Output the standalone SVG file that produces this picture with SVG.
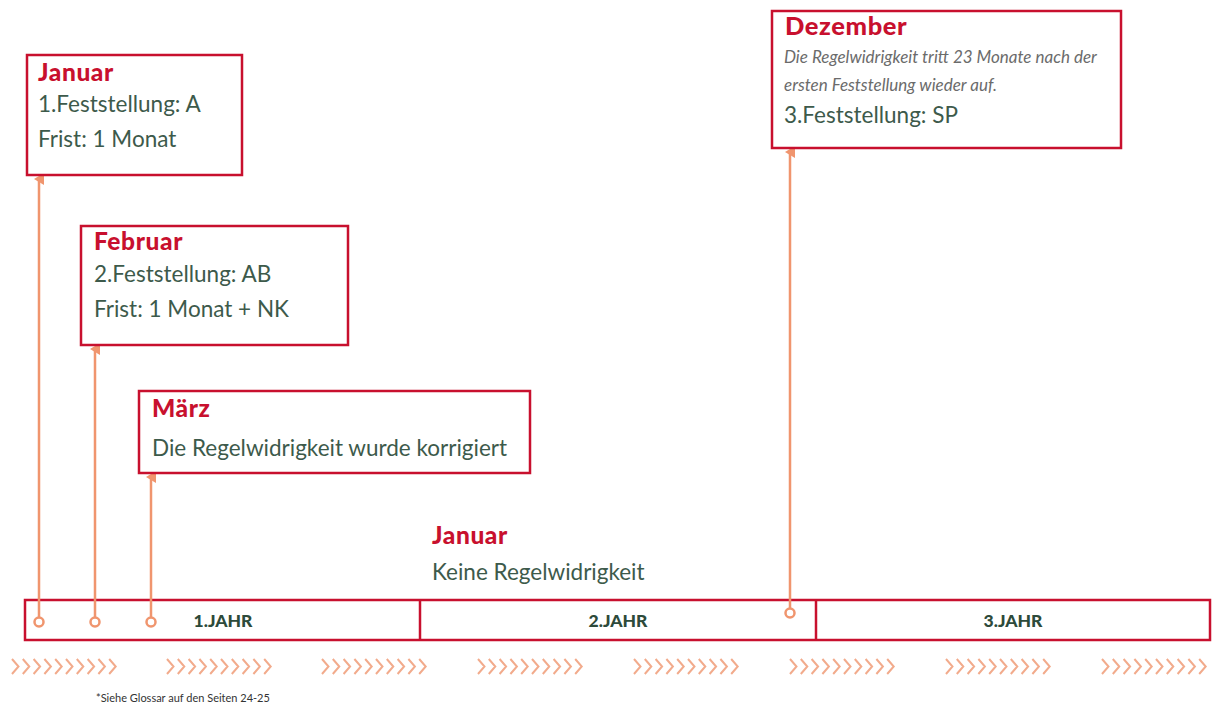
<svg xmlns="http://www.w3.org/2000/svg" width="1212" height="705" viewBox="0 0 1212 705">
<style>
.box{fill:#fff;stroke:#c8102e;stroke-width:2.5}
.title{font-family:Lato,"Open Sans",sans-serif;font-weight:900;fill:#c8102e;font-size:24.5px;letter-spacing:0.6px}
.txt{font-family:Lato,"Open Sans",sans-serif;fill:#3d5a4b;font-size:22.5px}
.it{font-family:Lato,"Open Sans",sans-serif;font-style:italic;fill:#6b6b6b;font-size:17px}
.yr{font-family:Lato,"Open Sans",sans-serif;font-weight:900;fill:#2d4a3a;font-size:17.5px;text-anchor:middle}
.conn{stroke:#f0956e;stroke-width:2.5;fill:none}
.dot{fill:#fff;stroke:#f0956e;stroke-width:2.5}
.chev{fill:none;stroke:#f2ab8c;stroke-width:2}
.foot{font-family:Lato,"Open Sans",sans-serif;fill:#333;font-size:11px}
</style>
<defs>
<marker id="ah" markerWidth="12" markerHeight="12" refX="6" refY="6" orient="auto" markerUnits="userSpaceOnUse">
<path d="M0,11 L6,1 L12,11 Z" fill="#f0956e"/>
</marker>
<g id="chevrons">
<path class="chev" d="M0,0 l6.5,7.5 l-6.5,7.5 M10.8,0 l6.5,7.5 l-6.5,7.5 M21.6,0 l6.5,7.5 l-6.5,7.5 M32.4,0 l6.5,7.5 l-6.5,7.5 M43.2,0 l6.5,7.5 l-6.5,7.5 M54,0 l6.5,7.5 l-6.5,7.5 M64.8,0 l6.5,7.5 l-6.5,7.5 M75.6,0 l6.5,7.5 l-6.5,7.5 M86.4,0 l6.5,7.5 l-6.5,7.5 M97.2,0 l6.5,7.5 l-6.5,7.5"/>
</g>
</defs>

<g id="timeline">
<rect class="box" x="25" y="600" width="1185" height="40"/>
<line x1="420" y1="600" x2="420" y2="640" stroke="#c8102e" stroke-width="2.5"/>
<line x1="816" y1="600" x2="816" y2="640" stroke="#c8102e" stroke-width="2.5"/>
<text class="yr" x="223" y="627">1.JAHR</text>
<text class="yr" x="618" y="627">2.JAHR</text>
<text class="yr" x="1013" y="627">3.JAHR</text>
</g>

<g id="connectors">
<line class="conn" x1="39" y1="618" x2="39" y2="179" marker-end="url(#ah)"/>
<line class="conn" x1="95" y1="618" x2="95" y2="349" marker-end="url(#ah)"/>
<line class="conn" x1="151" y1="618" x2="151" y2="477" marker-end="url(#ah)"/>
<line class="conn" x1="790" y1="609" x2="790" y2="152" marker-end="url(#ah)"/>
<circle class="dot" cx="39" cy="622" r="4.5"/>
<circle class="dot" cx="95" cy="622" r="4.5"/>
<circle class="dot" cx="151" cy="622" r="4.5"/>
<circle class="dot" cx="790" cy="613" r="4.5"/>
</g>

<g id="node-januar1">
<rect class="box" x="27" y="55" width="215" height="120"/>
<text class="title" x="38" y="81">Januar</text>
<text class="txt" x="38" y="112">1.Feststellung: A</text>
<text class="txt" x="38" y="147">Frist: 1 Monat</text>
</g>

<g id="node-februar">
<rect class="box" x="81" y="226" width="267" height="119"/>
<text class="title" x="94" y="250">Februar</text>
<text class="txt" x="94" y="282">2.Feststellung: AB</text>
<text class="txt" x="94" y="317">Frist: 1 Monat + NK</text>
</g>

<g id="node-maerz">
<rect class="box" x="139" y="391" width="391" height="82"/>
<text class="title" x="152" y="417">März</text>
<text class="txt" x="152" y="456">Die Regelwidrigkeit wurde korrigiert</text>
</g>

<g id="node-dezember">
<rect class="box" x="772" y="11" width="349" height="137"/>
<text class="title" x="785" y="35" style="font-size:25.5px">Dezember</text>
<text class="it" x="784" y="63">Die Regelwidrigkeit tritt 23 Monate nach der</text>
<text class="it" x="784" y="91">ersten Feststellung wieder auf.</text>
<text class="txt" x="784" y="123">3.Feststellung: SP</text>
</g>

<g id="node-januar2">
<text class="title" x="432" y="544">Januar</text>
<text class="txt" x="432" y="580">Keine Regelwidrigkeit</text>
</g>

<g id="arrows-strip">
<use href="#chevrons" x="12" y="659"/>
<use href="#chevrons" x="167" y="659"/>
<use href="#chevrons" x="322" y="659"/>
<use href="#chevrons" x="478" y="659"/>
<use href="#chevrons" x="634" y="659"/>
<use href="#chevrons" x="790" y="659"/>
<use href="#chevrons" x="946" y="659"/>
<use href="#chevrons" x="1102" y="659"/>
</g>

<text class="foot" x="96" y="702">*Siehe Glossar auf den Seiten 24-25</text>
</svg>
